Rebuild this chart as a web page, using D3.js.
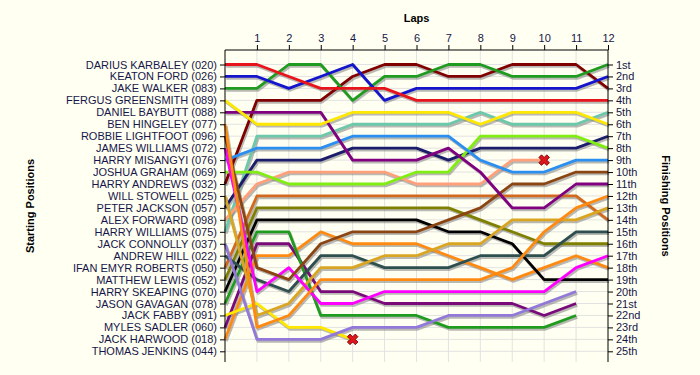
<!DOCTYPE html>
<html><head><meta charset="utf-8">
<script src="https://cdn.jsdelivr.net/npm/d3@7"></script>
<style>
body{margin:0;background:#FFFFF2;}
svg{display:block;font-family:"Liberation Sans",Arial,sans-serif;}
</style>
</head><body>
<svg id="chart" width="700" height="375"></svg>
<script>
// ---- data ----
const laps = d3.range(0, 13);
const drivers = [
  "DARIUS KARBALEY (020)", "KEATON FORD (026)", "JAKE WALKER (083)", "FERGUS GREENSMITH (089)",
  "DANIEL BAYBUTT (088)", "BEN HINGELEY (077)", "ROBBIE LIGHTFOOT (096)", "JAMES WILLIAMS (072)",
  "HARRY MISANGYI (076)", "JOSHUA GRAHAM (069)", "HARRY ANDREWS (032)", "WILL STOWELL (025)",
  "PETER JACKSON (057)", "ALEX FORWARD (098)", "HARRY WILLIAMS (075)", "JACK CONNOLLY (037)",
  "ANDREW HILL (022)", "IFAN EMYR ROBERTS (050)", "MATTHEW LEWIS (052)", "HARRY SKEAPING (070)",
  "JASON GAVAGAN (078)", "JACK FABBY (091)", "MYLES SADLER (060)", "JACK HARWOOD (018)",
  "THOMAS JENKINS (044)"
];
const finishLabels = ["1st","2nd","3rd","4th","5th","6th","7th","8th","9th","10th","11th","12th","13th",
  "14th","15th","16th","17th","18th","19th","20th","21st","22nd","23rd","24th","25th"];
// position of each driver at the end of each lap (lap 0 = grid)
const positions = [
  [1,1,2,3,3,3,4,4,4,4,4,4,4],
  [2,2,3,2,1,4,3,3,3,3,3,3,2],
  [3,3,1,1,4,2,2,1,1,2,2,2,1],
  [4,6,6,6,5,5,5,5,6,5,5,5,6],
  [5,5,5,5,9,9,9,8,10,13,13,11,11],
  [6,23,22,19,19,19,19,19,19,18,15,13,12],
  [7,18,19,16,15,15,15,14,13,11,11,10,10],
  [8,20,18,21,21,20,20,20,20,20,20,18,17],
  [9,8,8,8,7,7,7,7,9,10,10,9,9],
  [10,10,11,11,11,11,10,10,7,7,7,7,8],
  [11,4,4,4,2,1,1,2,2,1,1,1,3],
  [12,22,21,18,18,17,17,16,16,14,14,14,13],
  [13,9,9,9,8,8,8,9,8,8,8,8,7],
  [14,11,10,10,10,10,11,11,11,9,9],
  [15,7,7,7,6,6,6,6,5,6,6,6,5],
  [16,24,24,24,23,23,23,22,22,22,21,20],
  [17,19,20,17,17,18,18,18,17,17,17,15,15],
  [18,12,12,12,12,12,12,12,12,12,12,12,14],
  [19,13,13,13,13,13,13,13,14,15,16,16,16],
  [20,14,14,14,14,14,14,15,15,16,19,19,19],
  [21,15,15,22,22,22,22,23,23,23,23,22],
  [22,21,23,23,24],
  [23,16,16,20,20,21,21,21,21,21,22,21],
  [24,17,17,15,16,16,16,17,18,19,18,17,18],
  []
];
const retired = ["ALEX FORWARD (098)", "JACK FABBY (091)"];
const colors = [
  "#E8141B","#1414CC","#1F9C1F","#FFE800","#800080","#FF8A12","#8B4513","#FF00FF",
  "#2A8FF0","#80EE10","#800000","#DAA520","#1C1C6C","#FFA07A","#6CC8AA","#9278D8",
  "#2F4F4F","#D2691E","#808000","#000000","#1F9C1F","#FFE800","#7A0A7A","#FF8A12","#888888"
];

// ---- chart ----
const svg = d3.select("#chart");
svg.append("rect").attr("width",700).attr("height",375).attr("fill","#FFFFF2");
const x = d3.scaleLinear().domain([0, 12]).range([225, 608]);
const y = d3.scaleLinear().domain([1, 25]).range([64.5, 351.3]);
const topY = 50, bottomY = 362;
const textCol = "#16164a";

// grid
const grid = svg.append("g").attr("stroke","#E2E2E2").attr("stroke-width",1);
grid.selectAll("line.h").data(d3.range(1,26)).join("line").attr("class","h")
  .attr("x1", x(0)).attr("x2", x(12)).attr("y1", d=>y(d)).attr("y2", d=>y(d));
grid.selectAll("line.v").data(laps.slice(1,12)).join("line").attr("class","v")
  .attr("y1", topY).attr("y2", bottomY).attr("x1", d=>x(d)).attr("x2", d=>x(d));

// lines
const line = d3.line().x((d,i)=>x(i)).y(d=>y(d));
const series = drivers.map((name,i)=>({name, color: colors[i], pos: positions[i]})).filter(s=>s.pos.length>0);
const shadowG = svg.append("g");
shadowG.selectAll("path").data(series).join("path")
  .attr("d", s=>line(s.pos)).attr("fill","none").attr("stroke","#808080")
  .attr("stroke-opacity",0.55).attr("stroke-width",3).attr("stroke-linejoin","round")
  .attr("transform","translate(1.2,1.8)");
const lineG = svg.append("g");
lineG.selectAll("path").data(series.slice().reverse()).join("path")
  .attr("d", s=>line(s.pos)).attr("fill","none").attr("stroke", s=>s.color)
  .attr("stroke-width",2.8).attr("stroke-linejoin","round");

// retirement markers
const cross = d3.symbol().type(d3.symbolCross).size(70);
svg.append("g").selectAll("path").data(series.filter(s=>retired.includes(s.name))).join("path")
  .attr("d", cross)
  .attr("transform", s=>`translate(${x(s.pos.length-1)},${y(s.pos[s.pos.length-1])}) rotate(45)`)
  .attr("fill","#E0141B").attr("stroke","#700000").attr("stroke-width",0.8);

// axes
const leftAxis = d3.axisLeft(y).tickValues(d3.range(1,26)).tickFormat(d=>drivers[d-1]).tickSize(5).tickPadding(3);
const rightAxis = d3.axisRight(y).tickValues(d3.range(1,26)).tickFormat(d=>finishLabels[d-1]).tickSize(5).tickPadding(3);
const topAxis = d3.axisTop(x).tickValues(laps.slice(1)).tickSize(5).tickPadding(3);
function styleAxis(g){
  g.select(".domain").remove();
  g.selectAll("text").attr("fill", textCol).attr("font-size", 11).attr("font-family", '"Liberation Sans",Arial,sans-serif');
  g.selectAll("line").attr("stroke","#000");
}
svg.append("g").attr("transform",`translate(${x(0)},0)`).call(leftAxis).call(styleAxis);
svg.append("g").attr("transform",`translate(${x(12)},0)`).call(rightAxis).call(styleAxis);
svg.append("g").attr("transform",`translate(0,${topY})`).call(topAxis).call(styleAxis);
svg.append("line").attr("x1",x(0)).attr("x2",x(0)).attr("y1",topY).attr("y2",bottomY).attr("stroke","#000");
svg.append("line").attr("x1",x(12)).attr("x2",x(12)).attr("y1",topY).attr("y2",bottomY).attr("stroke","#000");
svg.append("line").attr("x1",x(0)).attr("x2",x(12)).attr("y1",topY).attr("y2",topY).attr("stroke","#000");

// titles
svg.append("text").attr("x",(x(0)+x(12))/2).attr("y",22).attr("text-anchor","middle")
  .attr("font-weight","bold").attr("font-size",11).text("Laps");
svg.append("text").attr("transform","translate(34,206) rotate(-90)").attr("text-anchor","middle")
  .attr("font-weight","bold").attr("font-size",11).text("Starting Positions");
svg.append("text").attr("transform","translate(662,206) rotate(90)").attr("text-anchor","middle")
  .attr("font-weight","bold").attr("font-size",11).text("Finishing Positions");
</script>
</body></html>
